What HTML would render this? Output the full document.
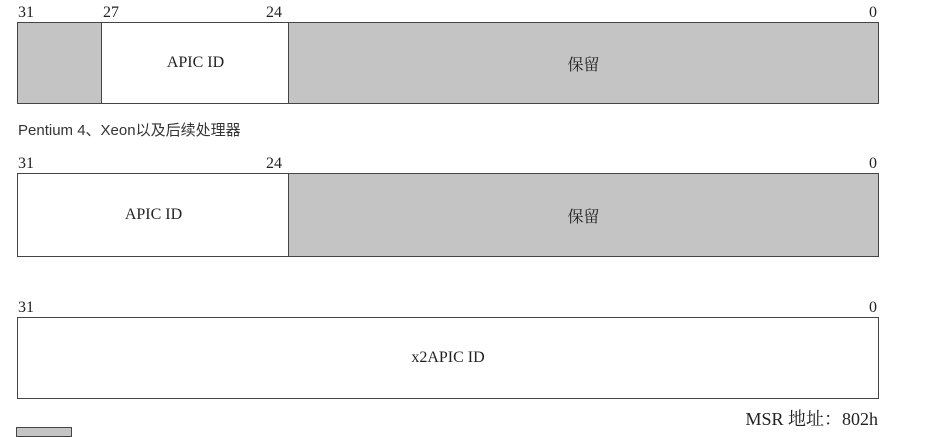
<!DOCTYPE html>
<html><head><meta charset="utf-8"><style>
body{margin:0;width:930px;height:432px;background:#fff;position:relative;overflow:hidden;font-family:"Liberation Serif","Noto Serif CJK SC",serif;color:#222}
.b{position:absolute;box-sizing:border-box;border:1.5px solid #444}
.g{background:#c4c4c4}
.t{position:absolute;font-size:16px;line-height:16px}
.c{position:absolute;font-size:16px;display:flex;align-items:center;justify-content:center}
</style></head><body>
<div class="t" style="left:18px;top:5px">31</div>
<div class="t" style="left:103px;top:5px">27</div>
<div class="t" style="left:266px;top:5px">24</div>
<div class="t" style="left:869px;top:5px">0</div>
<div class="b g" style="left:17px;top:22px;width:86px;height:82px"></div>
<div class="b c" style="left:101px;top:22px;width:189px;height:82px;background:#fff">APIC ID</div>
<div class="b g c" style="left:288px;top:22px;width:591px;height:82px;font-family:'Noto Serif CJK SC','Noto Sans CJK SC',serif">保留</div>
<div class="t" style="left:18px;top:123px;font-family:'Liberation Sans','Noto Sans CJK SC',sans-serif;font-size:15px;color:#333">Pentium 4、Xeon以及后续处理器</div>
<div class="t" style="left:18px;top:156px">31</div>
<div class="t" style="left:266px;top:156px">24</div>
<div class="t" style="left:869px;top:156px">0</div>
<div class="b c" style="left:17px;top:173px;width:273px;height:84px">APIC ID</div>
<div class="b g c" style="left:288px;top:173px;width:591px;height:84px;font-family:'Noto Serif CJK SC','Noto Sans CJK SC',serif">保留</div>
<div class="t" style="left:18px;top:300px">31</div>
<div class="t" style="left:869px;top:300px">0</div>
<div class="b c" style="left:17px;top:317px;width:862px;height:82px">x2APIC ID</div>
<div class="t" style="right:52px;top:410px;font-size:18px;line-height:18px;white-space:nowrap">MSR 地址：802h</div>
<div class="b g" style="left:16px;top:427px;width:56px;height:10px;border-width:1px"></div>
</body></html>
